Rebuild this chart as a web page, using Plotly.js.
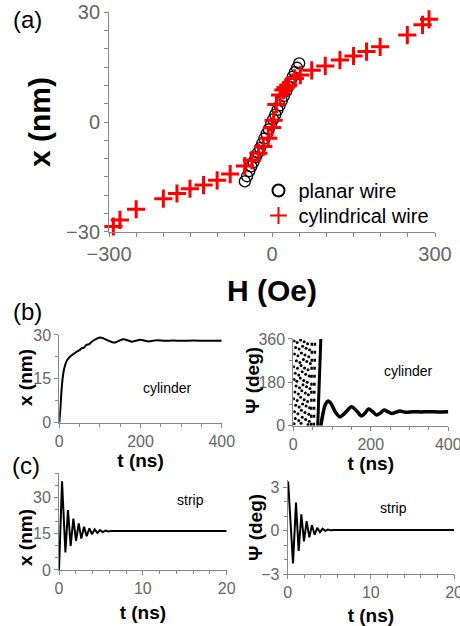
<!DOCTYPE html>
<html>
<head>
<meta charset="utf-8">
<script src="https://cdn.plot.ly/plotly-3.0.1.min.js"></script>
<style>html,body{margin:0;padding:0;background:#fff;}#chart{width:460px;height:626px;}</style>
</head>
<body>
<div id="chart"></div>
<script>
// ---------- Panel (a): x vs H ----------
const planarH = [-50,-46,-42,-38,-34,-30,-26,-22,-18,-14,-10,-6,-2,2,6,10,14,18,22,26,30,34,38,42,46,50];
const planarX = [-16.2,-14.8,-13.4,-12.1,-10.9,-9.6,-8.4,-7.1,-5.8,-4.5,-3.2,-2.0,-0.7,0.7,2.0,3.3,4.5,5.8,7.1,8.4,9.7,11.0,12.3,13.6,14.8,16.0];
const cylH = [-292,-280,-250,-200,-175,-151,-126,-101,-77,-50,-37,-25,-16,-7,0,3,8,15,21,25,30,42,52,73,98,125,150,174,199,249,277,289];
const cylX = [-28.5,-26.7,-23.8,-20.9,-19.5,-18.2,-17.2,-15.9,-14.2,-12.0,-10.4,-8.5,-6.7,-4.4,-1.5,0.5,4.8,7.4,8.7,9.4,10.1,11.9,12.8,14.1,15.3,16.9,18.0,19.2,20.5,23.7,26.5,28.0];

// ---------- Panel (b): cylinder ----------
const cylT = [0,3,6,10,15,20,28,36,43,50,55,60,67,73,80,90,100,108,117,127,137,147,158,168,178,188,199,209,219,230,240,260,280,300,330,360,400];
const cylXt = [0,5.5,12,17,20,21.5,22.8,23.6,24.3,24.8,25.5,25.6,26.6,26.8,27.7,28.6,29.1,28.9,28.3,27.7,27.4,28.0,28.5,28.2,27.7,28.0,28.4,28.1,27.8,28.0,28.2,28.0,28.1,28.0,28.1,28.0,28.0];

const psiDotT = [2,10,19,28,37, 6,15,24,33,42, 3,12,21,30,40, 8,17,26,35,44, 1,11,20,29,38, 5,14,23,32,41, 2,9,18,27,36, 7,16,25,34,43, 4,13,22,31,39, 1,10,19,28,37, 6,15,24,33,42, 3,12,21,30,40, 5,14,23,32,41, 2,20,38];
const psiDotV = [352,345,356,348,340, 325,318,330,322,315, 298,290,302,294,286, 270,262,275,266,258, 245,238,250,240,232, 218,210,224,214,206, 192,185,198,188,180, 165,158,170,162,154, 140,132,145,136,128, 112,105,118,108,100, 85,78,90,82,74, 58,50,64,55,47, 30,22,35,26,18, 8,10,5];
const dotSweepT = [46,48,null,53,56];
const dotSweepV = [0,360,null,0,360];
const solidSweepT = [63,71];
const solidSweepV = [0,360];
const psiCylT = [71,76,82,90,98,108,120,133,150,163,176,185,194,205,215,225,234,244,254,265,275,290,310,330,350,375,400];
const psiCylV = [0,45,85,102,90,58,37,52,79,62,40,52,69,58,44,53,65,58,51,56,61,56,58,57,58,57,58];

// ---------- Panel (c): strip ----------
const stripT = [0,0.36,0.76,1.07,1.39,1.71,2.03,2.35,2.66,2.98,3.3,3.62,3.94,4.26,4.58,4.9,5.22,5.54,5.86,6.2,20];
const stripX = [0,36.7,7.3,24.8,10,21.3,12,19.3,13,17.9,14,17.2,14.8,16.8,15.3,16.5,15.7,16.3,15.9,16.1,16.1];
const stripPsiT = [0,0.05,0.64,1.0,1.32,1.64,1.96,2.28,2.6,2.92,3.24,3.56,3.88,4.2,4.52,4.84,5.2,5.6,20];
const stripPsiV = [3.0,3.4,-2.25,1.94,-1.39,1.13,-0.73,0.66,-0.45,0.38,-0.27,0.2,-0.1,0.14,0.0,0.09,0.03,0.06,0.06];

const FONT = 'Liberation Sans, Arial, sans-serif';
const LINE = '#888';
const TICKC = '#666';

function ax(extra) {
  return Object.assign({
    showline: true, linecolor: LINE, linewidth: 1,
    ticks: 'outside', ticklen: 4, tickcolor: LINE, tickwidth: 1,
    showgrid: false, zeroline: false, ticklabeloverflow: 'allow',
    tickfont: {family: FONT, size: 16, color: TICKC},
    minor: {ticks: 'outside', ticklen: 3, tickcolor: LINE, showgrid: false}
  }, extra);
}
function ttl(text, size, standoff) {
  return {text: '<b>' + text + '</b>', font: {family: FONT, size: size, color: '#000'}, standoff: standoff};
}
function note(text, px, py, size, angle) {
  return {text: text, xref: 'paper', yref: 'paper', x: px / 460, y: 1 - py / 626,
          xanchor: 'center', yanchor: 'middle', showarrow: false, textangle: angle || 0,
          font: {family: FONT, size: size, color: '#000'}};
}

const traces = [
  {x: planarH, y: planarX, xaxis: 'x', yaxis: 'y', type: 'scatter', mode: 'markers', name: 'planar wire',
   cliponaxis: false, legend: 'legend',
   marker: {symbol: 'circle-open', size: 11, color: '#000', line: {width: 1.3, color: '#000'}}},
  {x: cylH, y: cylX, xaxis: 'x', yaxis: 'y', type: 'scatter', mode: 'markers', name: 'cylindrical wire',
   cliponaxis: false, legend: 'legend2',
   marker: {symbol: 'cross-thin', size: 13, color: '#ff0000', line: {width: 3, color: '#ff0000'}}},
  {x: cylT, y: cylXt, xaxis: 'x2', yaxis: 'y2', type: 'scatter', mode: 'lines', showlegend: false,
   line: {color: '#000', width: 2, shape: 'spline', smoothing: 0.6}},
  {x: psiDotT, y: psiDotV, xaxis: 'x3', yaxis: 'y3', type: 'scatter', mode: 'markers', showlegend: false,
   marker: {color: '#000', size: 3}},
  {x: dotSweepT, y: dotSweepV, xaxis: 'x3', yaxis: 'y3', type: 'scatter', mode: 'lines', showlegend: false,
   line: {color: '#000', width: 2.5, dash: '3px,5px'}},
  {x: solidSweepT, y: solidSweepV, xaxis: 'x3', yaxis: 'y3', type: 'scatter', mode: 'lines', showlegend: false,
   line: {color: '#000', width: 3}},
  {x: psiCylT, y: psiCylV, xaxis: 'x3', yaxis: 'y3', type: 'scatter', mode: 'lines', showlegend: false,
   line: {color: '#000', width: 3.5, shape: 'spline', smoothing: 0.8}},
  {x: stripT, y: stripX, xaxis: 'x4', yaxis: 'y4', type: 'scatter', mode: 'lines', showlegend: false,
   line: {color: '#000', width: 2}},
  {x: stripPsiT, y: stripPsiV, xaxis: 'x5', yaxis: 'y5', type: 'scatter', mode: 'lines', showlegend: false,
   line: {color: '#000', width: 2}}
];

const legendBase = {xanchor: 'left', yanchor: 'top', bgcolor: 'rgba(0,0,0,0)',
                    font: {family: FONT, size: 20, color: '#000'}, itemsizing: 'constant'};

const layout = {
  width: 460, height: 626,
  margin: {l: 0, r: 0, t: 0, b: 0},
  paper_bgcolor: '#fff', plot_bgcolor: '#fff',
  font: {family: FONT, color: '#000'},
  showlegend: true,
  legend: Object.assign({x: 258.5 / 460, y: 1 - 171 / 626}, legendBase),
  legend2: Object.assign({x: 258.5 / 460, y: 1 - 196 / 626}, legendBase),
  xaxis: ax({domain: [0.237, 0.9457], anchor: 'y', range: [-300, 300], tick0: -300, dtick: 300,
             tickfont: {family: FONT, size: 20, color: TICKC},
             minor: {ticks: 'outside', ticklen: 4, tickcolor: LINE, dtick: 50, showgrid: false},
             title: ttl('H (Oe)', 30, 16)}),
  yaxis: ax({domain: [0.6294, 0.9808], anchor: 'x', range: [-30, 30], tick0: -30, dtick: 30,
             tickfont: {family: FONT, size: 20, color: TICKC},
             minor: {ticks: 'outside', ticklen: 4, tickcolor: LINE, dtick: 5, showgrid: false},
             title: ttl('x (nm)', 30, 6)}),
  xaxis2: ax({domain: [0.1289, 0.482], anchor: 'y2', range: [0, 400], tick0: 0, dtick: 200,
              minor: {ticks: 'outside', ticklen: 3, tickcolor: LINE, dtick: 50},
              title: ttl('t (ns)', 19, 0)}),
  yaxis2: ax({domain: [0.3248, 0.4649], anchor: 'x2', range: [0, 30], tick0: 0, dtick: 15,
              minor: {ticks: 'outside', ticklen: 3, tickcolor: LINE, dtick: 7.5}}),
  xaxis3: ax({domain: [0.6376, 0.9746], anchor: 'y3', range: [0, 400], tick0: 0, dtick: 200,
              minor: {ticks: 'outside', ticklen: 3, tickcolor: LINE, dtick: 50},
              title: ttl('t (ns)', 19, 0)}),
  yaxis3: ax({domain: [0.32, 0.4585], anchor: 'x3', range: [0, 360], tick0: 0, dtick: 180,
              minor: {ticks: 'outside', ticklen: 3, tickcolor: LINE, dtick: 90}}),
  xaxis4: ax({domain: [0.1283, 0.4928], anchor: 'y4', range: [0, 20], tick0: 0, dtick: 10,
              minor: {ticks: 'outside', ticklen: 3, tickcolor: LINE, dtick: 2},
              title: ttl('t (ns)', 19, 9)}),
  yaxis4: ax({domain: [0.0895, 0.2439], anchor: 'x4', range: [0, 40], tick0: 0, dtick: 15,
              minor: {ticks: 'outside', ticklen: 3, tickcolor: LINE, dtick: 5}}),
  xaxis5: ax({domain: [0.6254, 0.987], anchor: 'y5', range: [0, 20], tick0: 0, dtick: 10,
              minor: {ticks: 'outside', ticklen: 3, tickcolor: LINE, dtick: 2},
              title: ttl('t (ns)', 19, 9)}),
  yaxis5: ax({domain: [0.0826, 0.2332], anchor: 'x5', range: [-3, 3.5], tick0: -3, dtick: 3,
              minor: {ticks: 'outside', ticklen: 3, tickcolor: LINE, dtick: 1}}),
  annotations: [
    note('(a)', 27, 19, 24),
    note('(b)', 27, 311, 24),
    note('(c)', 26, 465, 24),
    note('<b>x (nm)</b>', 25, 378, 19, -90),
    note('<b>Ψ (deg)</b>', 252, 380, 19, -90),
    note('<b>x (nm)</b>', 25, 538, 19, -90),
    note('<b>Ψ (deg)</b>', 255, 528, 19, -90),
    note('cylinder', 167, 388, 14),
    note('cylinder', 408, 371, 14),
    note('strip', 190, 500, 14),
    note('strip', 393, 508, 14)
  ]
};

Plotly.newPlot('chart', traces, layout, {staticPlot: true, displayModeBar: false});
</script>
</body>
</html>
